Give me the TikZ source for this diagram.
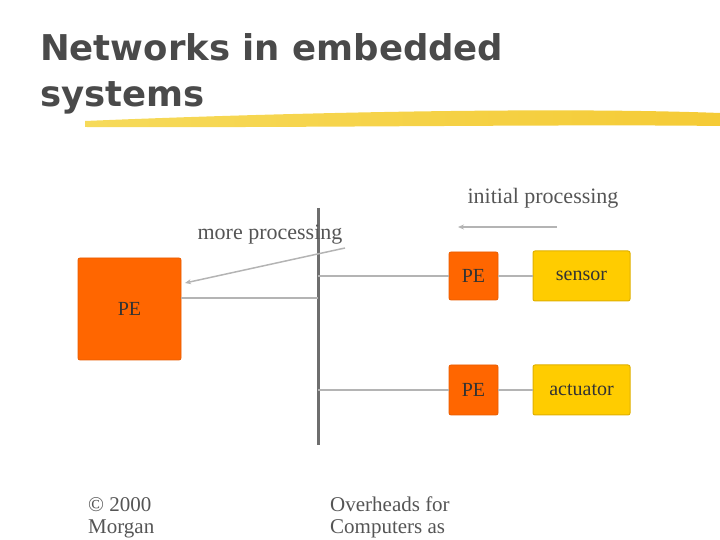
\documentclass[tikz,border=0pt]{standalone}
\usepackage{fontspec}
\setmainfont{Liberation Serif}
\newfontfamily\titlefont{DejaVu Sans}
\usetikzlibrary{arrows.meta}
\definecolor{NEOrange}{HTML}{FF6600}
\definecolor{NEOrangeLine}{HTML}{E85C00}
\definecolor{NEYellow}{HTML}{FFCC00}
\definecolor{NEYellowLine}{HTML}{E0B000}
\definecolor{NESwooshA}{HTML}{F6DA5A}
\definecolor{NESwooshB}{HTML}{F0B80A}
\definecolor{NESwooshC}{HTML}{F5CB36}
\definecolor{NEText}{HTML}{4A4A4A}
\definecolor{NELabel}{HTML}{555555}
\definecolor{NELink}{HTML}{B4B4B4}
\definecolor{NEBus}{HTML}{6E6E6E}

\begin{document}
\begin{tikzpicture}[x=1pt,y=1pt,
  pebox/.style={fill=NEOrange,draw=NEOrangeLine,line width=0.8pt,rounded corners=2pt,
    text=black!80,font=\fontsize{20}{23}\selectfont,inner sep=0pt},
  devbox/.style={fill=NEYellow,draw=NEYellowLine,line width=1pt,rounded corners=2pt,
    minimum width=97pt,minimum height=50pt,text=black!80,font=\fontsize{20}{23}\selectfont},
  link/.style={draw=NELink,line width=1.8pt},
  flow/.style={draw=NELink,line width=1.5pt,-{Stealth[length=6pt,width=5pt]}},
  caption/.style={text=NELabel,font=\fontsize{22}{26}\selectfont,inner sep=0pt}]
\path[use as bounding box] (0,0) rectangle (720,540);
\node[anchor=north west,align=left,inner sep=0pt,text=NEText,
  font=\titlefont\bfseries\fontsize{35.5}{46}\selectfont] (title) at (40,507) {Networks in embedded\\systems};
\shade[left color=NESwooshA,middle color=NESwooshB,right color=NESwooshC]
  (85,419) .. controls (300,428) and (560,433) .. (720,427) -- (720,414)
  .. controls (560,416) and (300,412) .. (85,413) -- cycle;
\node[pebox,minimum width=103pt,minimum height=102pt] (pe) at (129.5,231) {PE};
\node[pebox,minimum width=49pt,minimum height=48pt] (pea) at (473.5,264) {PE};
\node[pebox,minimum width=49pt,minimum height=50pt] (peb) at (473.5,150) {PE};
\node[devbox] (sensor) at (581.5,264) {sensor};
\node[devbox] (actuator) at (581.5,150) {actuator};
\coordinate (bustop) at (318,332);
\coordinate (busbot) at (318,95);
\coordinate (tap) at (318,242);
\draw[NEBus,line width=3pt] (bustop) -- (busbot);
\draw[link] (tap) -- (tap -| pe.east);
\draw[link] (bustop |- pea.west) -- (pea.west);
\draw[link] (bustop |- peb.west) -- (peb.west);
\draw[link] (pea) -- (sensor);
\draw[link] (peb) -- (actuator);
\node[caption] (more) at (270,305) {more processing};
\node[caption] (initial) at (543,342) {initial processing};
\coordinate (morefrom) at (345,292);
\coordinate (moreto) at (185,257);
\draw[flow] (morefrom) -- (moreto);
\coordinate (initfrom) at (557,313);
\coordinate (initto) at (458,313);
\draw[flow] (initfrom) -- (initto);
\node[caption,anchor=north west,align=left,font=\fontsize{21}{22}\selectfont] (copy) at (88,43) {© 2000\\Morgan};
\node[caption,anchor=north west,align=left,font=\fontsize{21}{22}\selectfont] (over) at (330,43) {Overheads for\\Computers as};
\end{tikzpicture}
\end{document}
